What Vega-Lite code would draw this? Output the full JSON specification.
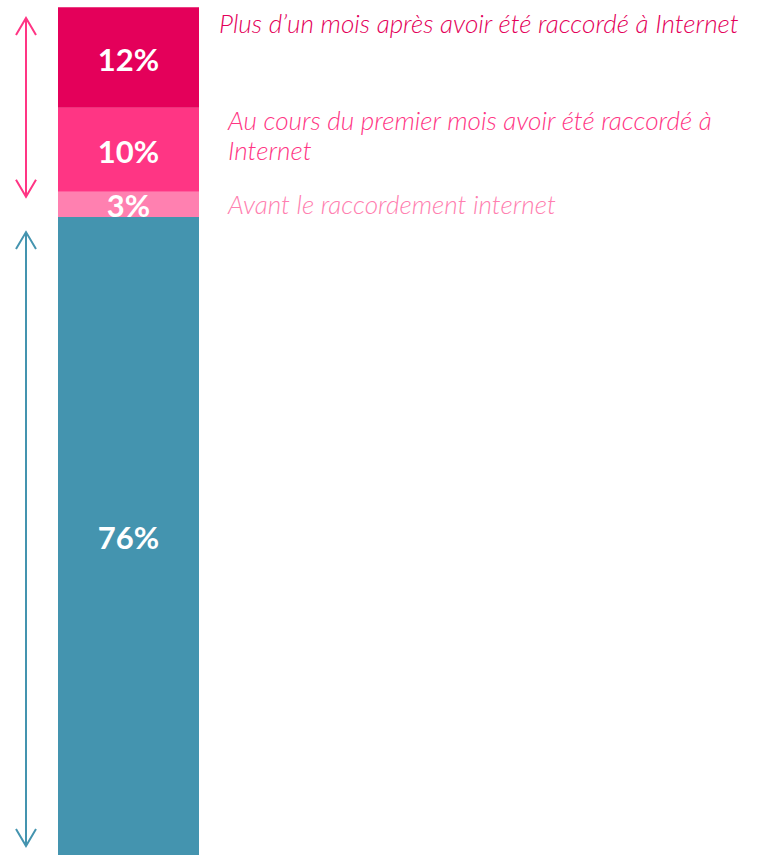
{
  "$schema": "https://vega.github.io/schema/vega-lite/v6.json",
  "autosize": "none",
  "width": 141,
  "height": 855,
  "padding": {"left": 58, "top": 0, "right": 559, "bottom": 0},
  "background": "white",
  "config": {"view": {"stroke": null}},
  "datasets": {
    "segments": [
      {"segment": "76%", "value": 76, "order": 1, "note": null},
      {"segment": "3%", "value": 3, "order": 2, "note": "Avant le raccordement internet"},
      {"segment": "10%", "value": 10, "order": 3, "note": ["Au cours du premier mois avoir été raccordé à", "Internet"]},
      {"segment": "12%", "value": 12, "order": 4, "note": "Plus d’un mois après avoir été raccordé à Internet"}
    ],
    "arrows": [
      {"group": "pink", "top": 99.7, "bottom": 78.4},
      {"group": "teal", "top": 74.2, "bottom": 1.07}
    ]
  },
  "layer": [
    {
      "data": {"name": "segments"},
      "mark": {"type": "bar", "stroke": null},
      "encoding": {
        "x": {"datum": "A", "type": "nominal", "scale": {"paddingInner": 0, "paddingOuter": 0}, "axis": null},
        "y": {"field": "value", "type": "quantitative", "stack": "zero", "scale": {"domain": [0, 101.85], "nice": false}, "axis": null},
        "order": {"field": "order", "type": "quantitative"},
        "color": {"field": "segment", "type": "nominal", "scale": {"domain": ["12%", "10%", "3%", "76%"], "range": ["#E4005A", "#FF3584", "#FF80B0", "#4494AF"]}, "legend": null}
      }
    },
    {
      "data": {"name": "segments"},
      "mark": {"type": "text", "font": "Lato", "fontWeight": "bold", "fontSize": 31, "color": "white", "baseline": "middle", "align": "center", "dy": 4},
      "encoding": {
        "x": {"datum": "A", "type": "nominal"},
        "y": {"field": "value", "type": "quantitative", "stack": "zero", "bandPosition": 0.5},
        "order": {"field": "order", "type": "quantitative"},
        "text": {"field": "segment"}
      }
    },
    {
      "data": {"name": "segments"},
      "transform": [
        {"stack": "value", "groupby": [], "sort": [{"field": "order"}], "as": ["v0", "v1"]},
        {"filter": "datum.order == 4"}
      ],
      "mark": {"type": "text", "font": "Lato", "fontStyle": "italic", "fontWeight": 300, "fontSize": 26.1, "color": "#E4005A", "baseline": "alphabetic", "align": "left", "dx": 90.5, "dy": 26},
      "encoding": {
        "x": {"datum": "A", "type": "nominal"},
        "y": {"field": "v1", "type": "quantitative"},
        "text": {"field": "note"}
      }
    },
    {
      "data": {"name": "segments"},
      "transform": [
        {"stack": "value", "groupby": [], "sort": [{"field": "order"}], "as": ["v0", "v1"]},
        {"filter": "datum.order == 2 || datum.order == 3"}
      ],
      "mark": {"type": "text", "font": "Lato", "fontStyle": "italic", "fontWeight": 300, "fontSize": 26.1, "baseline": "alphabetic", "align": "left", "dx": 99.5, "dy": 21.8, "lineHeight": 30},
      "encoding": {
        "x": {"datum": "A", "type": "nominal"},
        "y": {"field": "v1", "type": "quantitative"},
        "text": {"field": "note"},
        "color": {"field": "segment", "type": "nominal"}
      }
    },
    {
      "data": {"name": "arrows"},
      "mark": {"type": "rule", "strokeWidth": 2, "xOffset": -102.5},
      "encoding": {
        "x": {"datum": "A", "type": "nominal"},
        "y": {"field": "top", "type": "quantitative"},
        "y2": {"field": "bottom"},
        "stroke": {"field": "group", "type": "nominal", "scale": {"domain": ["pink", "teal"], "range": ["#FF3584", "#4494AF"]}, "legend": null}
      }
    },
    {
      "data": {"name": "arrows"},
      "mark": {"type": "point", "shape": "M-1,1.7L0,0L1,1.7", "size": 400, "filled": false, "strokeWidth": 2, "opacity": 1, "xOffset": -102.5},
      "encoding": {
        "x": {"datum": "A", "type": "nominal"},
        "y": {"field": "top", "type": "quantitative"},
        "stroke": {"field": "group", "type": "nominal"}
      }
    },
    {
      "data": {"name": "arrows"},
      "mark": {"type": "point", "shape": "M-1,-1.7L0,0L1,-1.7", "size": 400, "filled": false, "strokeWidth": 2, "opacity": 1, "xOffset": -102.5},
      "encoding": {
        "x": {"datum": "A", "type": "nominal"},
        "y": {"field": "bottom", "type": "quantitative"},
        "stroke": {"field": "group", "type": "nominal"}
      }
    }
  ]
}
